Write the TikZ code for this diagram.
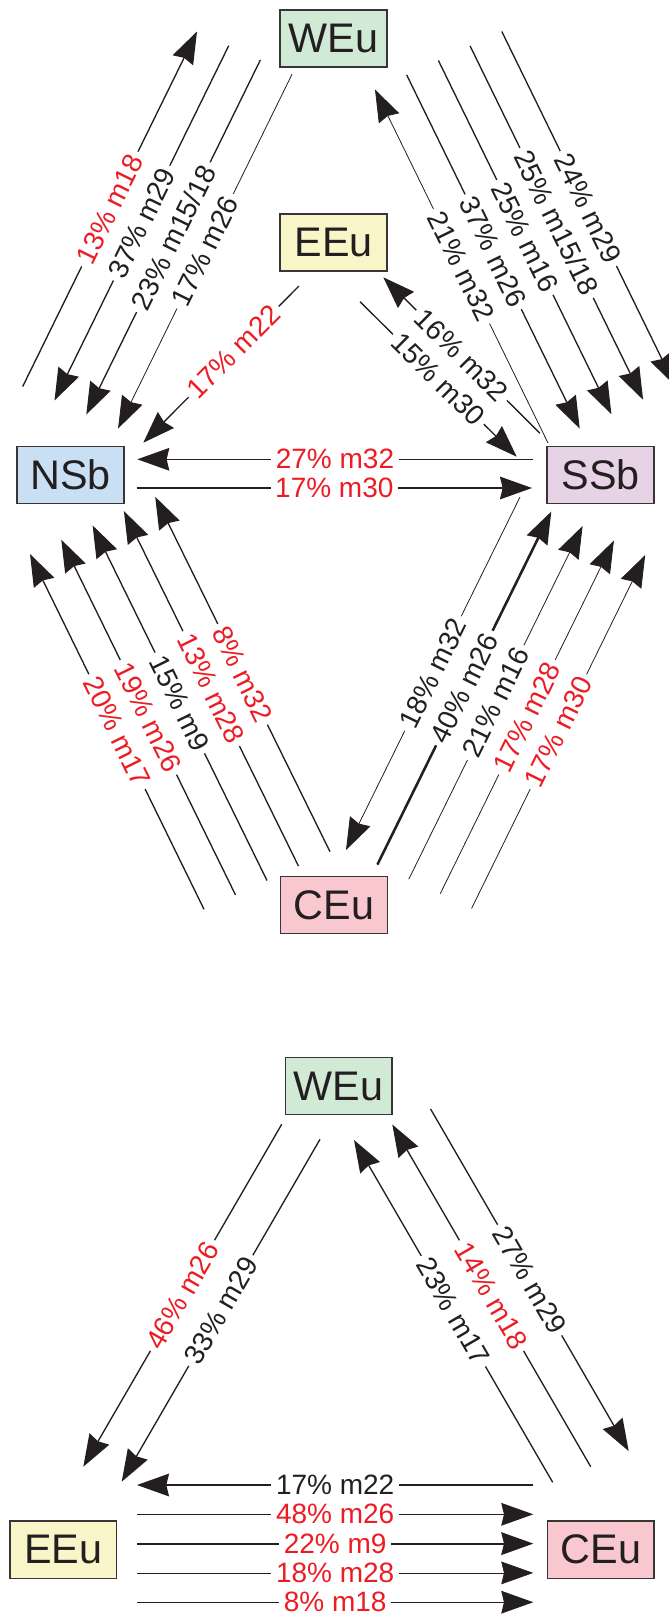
\documentclass[tikz,border=0pt]{standalone}
\usepackage{fontspec}
\setmainfont{Liberation Sans}
\usepackage{xcolor}
\usepackage{tikz}
\usetikzlibrary{arrows.meta,positioning}

\definecolor{ink}{RGB}{35,31,32}
\definecolor{mred}{RGB}{237,28,36}
\definecolor{weucol}{RGB}{208,234,214}
\definecolor{eeucol}{RGB}{248,246,200}
\definecolor{nsbcol}{RGB}{201,223,244}
\definecolor{ssbcol}{RGB}{231,211,230}
\definecolor{ceucol}{RGB}{248,200,206}

\tikzset{
  region/.style={draw=ink!90, line width=1.2pt, minimum width=80pt, minimum height=43pt,
    inner sep=0pt, text=ink, font=\fontsize{31}{31}\selectfont},
  flow/.style={draw=ink, line width=1pt, -{Stealth[length=24pt,width=17pt,inset=2pt]}},
  light/.style={line width=0.6pt},
  heavy/.style={line width=1.9pt},
  pct/.style={midway, sloped, fill=white, inner xsep=3.5pt, inner ysep=1pt, text=ink,
    font=\fontsize{21}{21}\selectfont}
}

\begin{document}
\begin{tikzpicture}[x=0.75pt, y=-0.75pt]
\useasboundingbox (0,0) rectangle (668,1614);

% upper diagram
\node (weuT) [region, fill=weucol] at (333.5,38.5) {WEu};
\node (eeuT) [region, fill=eeucol, below=108.75pt of weuT] {EEu};
\node (nsb) [region, fill=nsbcol] at (70.5,475) {NSb};
\node (ssb) [region, fill=ssbcol] at (600.5,475) {SSb};
\node (ceuT) [region, fill=ceucol] at (334,905) {CEu};

% WEu -- NSb
\foreach \k in {0,...,3} {
  \coordinate (wn-a\k) at (197+31.7*\k, 31.5+14.2*\k);
  \coordinate (wn-b\k) at (22.7+31.8*\k, 386.5+14*\k);
}
\draw[flow] (wn-b0) -- (wn-a0) node[pct, text=mred] {13\% m18};
\draw[flow] (wn-a1) -- (wn-b1) node[pct] {37\% m29};
\draw[flow] (wn-a2) -- (wn-b2) node[pct] {23\% m15/18};
\draw[flow, light] (wn-a3) -- (wn-b3) node[pct] {17\% m26};

% WEu -- SSb
\foreach \k in {0,...,4} {
  \coordinate (ws-a\k) at (375+31.7*\k, 89.5-14.5*\k);
  \coordinate (ws-b\k) at (548+31.7*\k, 443-14.4*\k);
}
\draw[flow, light] (ws-b0) -- (ws-a0) node[pct] {21\% m32};
\draw[flow] (ws-a1) -- (ws-b1) node[pct] {37\% m26};
\draw[flow] (ws-a2) -- (ws-b2) node[pct] {25\% m16};
\draw[flow] (ws-a3) -- (ws-b3) node[pct] {25\% m15/18};
\draw[flow] (ws-a4) -- (ws-b4) node[pct] {24\% m29};

% EEu -- NSb, EEu -- SSb
\coordinate (en-a) at (299,286);
\coordinate (en-b) at (143.3,442.7);
\draw[flow] (en-a) -- (en-b) node[pct, pos=0.42, text=mred] {17\% m22};
\coordinate (es-a) at (383.3,277.3);
\coordinate (es-b) at (540,433.3);
\coordinate (es-c) at (360,301.7);
\coordinate (es-d) at (516.7,456.7);
\draw[flow] (es-b) -- (es-a) node[pct] {16\% m32};
\draw[flow] (es-c) -- (es-d) node[pct] {15\% m30};

% NSb -- SSb
\coordinate (ns-a) at (137.3,459.3);
\coordinate (ns-b) at (532.7,459.3);
\coordinate (ns-c) at (136.7,488);
\coordinate (ns-d) at (532,488);
\draw[flow] (ns-b) -- (ns-a) node[pct, text=mred] {27\% m32};
\draw[flow] (ns-c) -- (ns-d) node[pct, text=mred] {17\% m30};

% CEu -- NSb
\foreach \k in {0,...,4} {
  \coordinate (cn-a\k) at (30+31.3*\k, 554-14.3*\k);
  \coordinate (cn-b\k) at (204+31.5*\k, 909.3-14.4*\k);
}
\draw[flow] (cn-b0) -- (cn-a0) node[pct, text=mred] {20\% m17};
\draw[flow] (cn-b1) -- (cn-a1) node[pct, text=mred] {19\% m26};
\draw[flow] (cn-b2) -- (cn-a2) node[pct] {15\% m9};
\draw[flow] (cn-b3) -- (cn-a3) node[pct, text=mred] {13\% m28};
\draw[flow] (cn-b4) -- (cn-a4) node[pct, text=mred] {8\% m32};

% CEu -- SSb
\foreach \k in {0,...,4} {
  \coordinate (cs-a\k) at (520+31.3*\k, 497+14.5*\k);
  \coordinate (cs-b\k) at (346+31.4*\k, 850+14.6*\k);
}
\draw[flow, light] (cs-a0) -- (cs-b0) node[pct] {18\% m32};
\draw[flow, heavy] (cs-b1) -- (cs-a1) node[pct] {40\% m26};
\draw[flow, light] (cs-b2) -- (cs-a2) node[pct] {21\% m16};
\draw[flow, light] (cs-b3) -- (cs-a3) node[pct, text=mred] {17\% m28};
\draw[flow, light] (cs-b4) -- (cs-a4) node[pct, text=mred] {17\% m30};

% lower diagram
\node (weuB) [region, fill=weucol] at (338.7,1086) {WEu};
\node (eeuB) [region, fill=eeucol] at (63.3,1549.7) {EEu};
\node (ceuB) [region, fill=ceucol] at (600.8,1549.7) {CEu};

% WEu -- EEu
\foreach \k in {0,1} {
  \coordinate (we-a\k) at (281.7+38.3*\k, 1124.3+15*\k);
  \coordinate (we-b\k) at (83.3+38.4*\k, 1466.7+15*\k);
}
\draw[flow] (we-a0) -- (we-b0) node[pct, text=mred] {46\% m26};
\draw[flow] (we-a1) -- (we-b1) node[pct] {33\% m29};

% WEu -- CEu
\foreach \k in {0,...,2} {
  \coordinate (wc-a\k) at (354+38.3*\k, 1140-15.5*\k);
  \coordinate (wc-b\k) at (552.7+38*\k, 1482.3-15.6*\k);
}
\draw[flow] (wc-b0) -- (wc-a0) node[pct] {23\% m17};
\draw[flow] (wc-b1) -- (wc-a1) node[pct, text=mred] {14\% m18};
\draw[flow] (wc-a2) -- (wc-b2) node[pct] {27\% m29};

% EEu -- CEu
\foreach \k in {0,...,4} {
  \coordinate (ec-a\k) at (137,1485+29.3*\k);
  \coordinate (ec-b\k) at (533.3,1485+29.3*\k);
}
\draw[flow] (ec-b0) -- (ec-a0) node[pct] {17\% m22};
\draw[flow] (ec-a1) -- (ec-b1) node[pct, text=mred] {48\% m26};
\draw[flow, line width=1.4pt] (ec-a2) -- (ec-b2) node[pct, text=mred] {22\% m9};
\draw[flow, light] (ec-a3) -- (ec-b3) node[pct, text=mred] {18\% m28};
\draw[flow] (ec-a4) -- (ec-b4) node[pct, text=mred] {8\% m18};
\end{tikzpicture}
\end{document}
